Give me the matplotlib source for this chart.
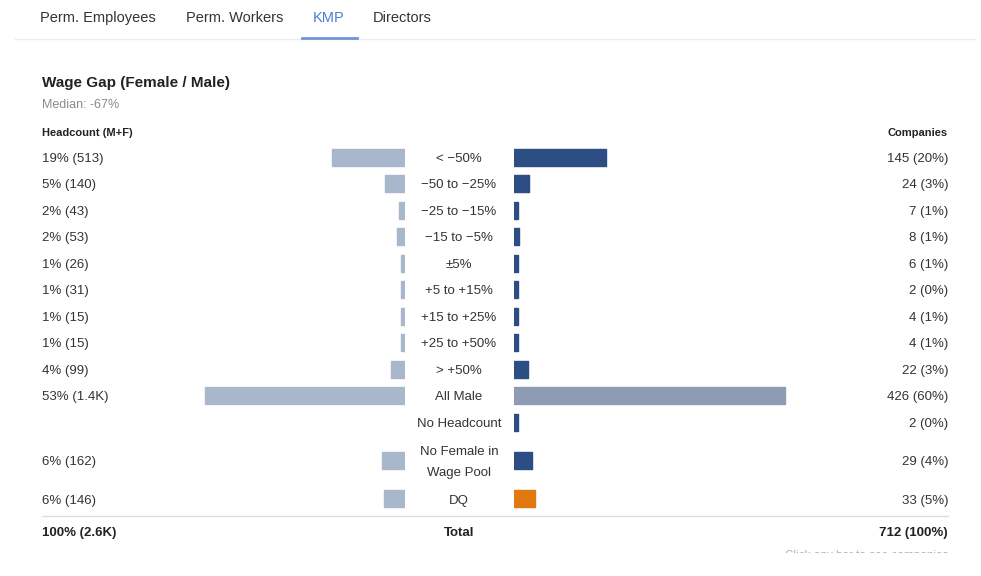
import numpy as np
import matplotlib
matplotlib.use("Agg")
import matplotlib.pyplot as plt
from matplotlib import transforms
from matplotlib.patches import Rectangle
from matplotlib.lines import Line2D

plt.rcParams['font.family'] = ['Liberation Sans', 'DejaVu Sans']

# data
categories = ['< \u221250%', '\u221250 to \u221225%', '\u221225 to \u221215%', '\u221215 to \u22125%',
              '\u00b15%', '+5 to +15%', '+15 to +25%', '+25 to +50%', '> +50%', 'All Male',
              'No Headcount', 'No Female in\nWage Pool', 'DQ']
headcount = [513, 140, 43, 53, 26, 31, 15, 15, 99, 1400, 0, 162, 146]
headcount_labels = ['19% (513)', '5% (140)', '2% (43)', '2% (53)', '1% (26)', '1% (31)', '1% (15)',
                    '1% (15)', '4% (99)', '53% (1.4K)', '', '6% (162)', '6% (146)']
companies = [145, 24, 7, 8, 6, 2, 4, 4, 22, 426, 2, 29, 33]
company_labels = ['145 (20%)', '24 (3%)', '7 (1%)', '8 (1%)', '6 (1%)', '2 (0%)', '4 (1%)',
                  '4 (1%)', '22 (3%)', '426 (60%)', '2 (0%)', '29 (4%)', '33 (5%)']
tabs = ['Perm. Employees', 'Perm. Workers', 'KMP', 'Directors']
total_left = '100% (2.6K)'
total_right = '712 (100%)'
median_text = 'Median: -67%'

# styling
W, H = 981, 576
LEFT_C = '#a9b7cc'
DARK_C = '#2c4e85'
MALE_C = '#8d9cb4'
DQ_C = '#e07a10'
TXT = '#333333'

fig = plt.figure(figsize=(W / 100, H / 100), dpi=100)


def fx(x):
    return x / W


def fy(y):
    return 1 - y / H


def put(x, y, s, size, **kw):
    # place text so its capitals are centred on pixel row y
    cap = 0.72 * size * 100 / 72
    fig.text(fx(x), fy(y + cap / 2), s, va='baseline', fontsize=size, **kw)


# row layout (taller row for the two-line label)
row_h = np.array([1.9 if '\n' in c else 1.0 for c in categories])
centers = np.cumsum(row_h) - row_h / 2
n_units = row_h.sum()
top_px, bot_px = 143.75, 512.25

axL = fig.add_axes([fx(42), fy(bot_px), fx(405 - 42), (bot_px - top_px) / H])
axR = fig.add_axes([fx(514), fy(bot_px), fx(948 - 514), (bot_px - top_px) / H])

left_max = 1400 * (405 - 42) / 200
right_max = 426 * (948 - 514) / 271

min_px = 4
hc_w = [max(v, min_px * left_max / (405 - 42)) if v > 0 else 0 for v in headcount]
co_w = [max(v, min_px * right_max / (948 - 514)) for v in companies]
bar_h = 17 / 26.5

right_colors = [DARK_C] * len(categories)
right_colors[categories.index('All Male')] = MALE_C
right_colors[categories.index('DQ')] = DQ_C

# thin same-colour edge with round joins softens the corners a little
axL.barh(centers, hc_w, height=bar_h, color=LEFT_C, edgecolor=LEFT_C,
         lw=[1 if w > 0 else 0 for w in hc_w], joinstyle='round')
axR.barh(centers, co_w, height=bar_h, color=right_colors, edgecolor=right_colors, lw=1,
         joinstyle='round')

axL.set_xlim(left_max, 0)
axR.set_xlim(0, right_max)
for ax in (axL, axR):
    ax.set_ylim(n_units, 0)
    ax.axis('off')

fs = 9.5
cap = 0.72 * fs * 100 / 72
tL = transforms.offset_copy(transforms.blended_transform_factory(axL.transAxes, axL.transData),
                            fig=fig, y=-cap / 2, units='dots')
tR = transforms.offset_copy(transforms.blended_transform_factory(axR.transAxes, axR.transData),
                            fig=fig, y=-cap / 2, units='dots')
tC = transforms.blended_transform_factory(fig.transFigure, axL.transData)

for y, cat, hl, cl in zip(centers, categories, headcount_labels, company_labels):
    axL.text(0, y, hl, transform=tL, ha='left', va='baseline', fontsize=fs, color=TXT)
    axR.text(1, y, cl, transform=tR, ha='right', va='baseline', fontsize=fs, color=TXT)
    lines = cat.split('\n')
    for i, line in enumerate(lines):
        dy = (i - (len(lines) - 1) / 2) * 21
        tt = transforms.offset_copy(tC, fig=fig, y=-cap / 2 - dy, units='dots')
        fig.text(fx(459), y, line, transform=tt, ha='center', va='baseline', fontsize=fs,
                 color=TXT)

# headers
put(42, 132, 'Headcount (M+F)', 8, ha='left', fontweight='bold', color='#222222')
put(948, 132, 'Companies', 8, ha='right', fontweight='bold', color='#222222')

# total row
fig.lines.append(Line2D([fx(42), fx(948)], [fy(516), fy(516)], transform=fig.transFigure,
                        color='#dddddd', lw=1))
put(42, 531, total_left, fs, ha='left', fontweight='bold', color='#222222')
put(459, 531, 'Total', fs, ha='center', fontweight='bold', color='#222222')
put(948, 531, total_right, fs, ha='right', fontweight='bold', color='#222222')

# title
put(42, 81, 'Wage Gap (Female / Male)', 11, ha='left', fontweight='bold', color='#222222')
put(42, 104, median_text, 9, ha='left', color='#8a8a8a')

# tabs
tab_x = [40, 186, 313, 373]
for x, t in zip(tab_x, tabs):
    put(x, 17, t, 10.5, ha='left', color='#4a7fd0' if t == 'KMP' else '#333333')
fig.lines.append(Line2D([fx(15), fx(975)], [fy(39), fy(39)], transform=fig.transFigure,
                        color='#ececec', lw=1))
fig.lines.append(Line2D([fx(302), fx(357)], [fy(38), fy(38)], transform=fig.transFigure,
                        color='#6f95d8', lw=2))

# footer hint, cut off at the bottom
put(948, 554.5, 'Click any bar to see companies', 8.5, ha='right', color='#b0b0b0')
fig.patches.append(Rectangle((0, 0), 1, fy(553), transform=fig.transFigure,
                             facecolor='white', edgecolor='none', zorder=10))

fig.savefig('out.png', dpi=100, facecolor='white')
